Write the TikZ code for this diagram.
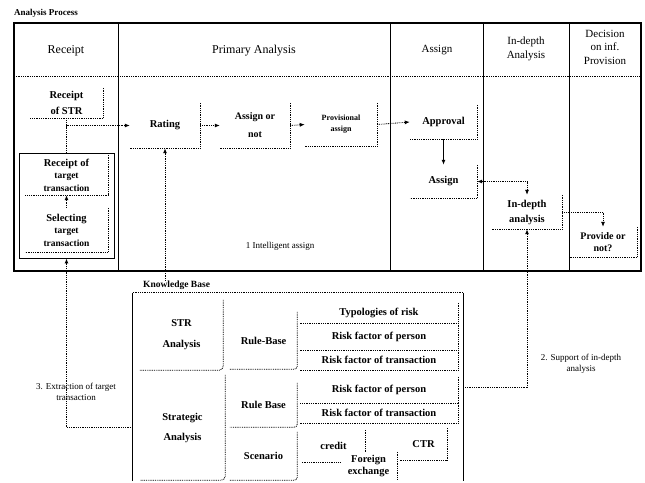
\documentclass[tikz,border=0pt]{standalone}
\usepackage{fontspec}
\setmainfont{Liberation Serif}
\usetikzlibrary{arrows.meta,calc}
\newcommand\Ledge[2][]{\draw[dotline,#1] (#2.north east) -- (#2.south east) -- (#2.south west);}
\begin{document}
\begin{tikzpicture}[x=1pt,y=-1pt,
  dotline/.style={line width=0.8pt, dash pattern=on 0.9pt off 0.9pt},
  tipend/.style={-{Latex[length=5pt,width=4pt]}},
  bothend/.style={{Latex[length=5pt,width=4pt]}-{Latex[length=5pt,width=4pt]}},
  bx/.style={inner sep=0pt, align=center, font=\bfseries\fontsize{10.5}{12.5}\selectfont},
  hd/.style={inner sep=0pt, align=center, font=\fontsize{12}{14}\selectfont},
  lbl/.style={inner sep=0pt, align=center, font=\fontsize{9}{11}\selectfont},
]
\fill[white] (0,0) rectangle (645,482);
\useasboundingbox (0,0) rectangle (645,482);

% ---------- Analysis process frame ----------
\node[anchor=west, inner sep=0pt, font=\bfseries\fontsize{9}{10}\selectfont] (aplabel) at (14,13) {Analysis Process};
\draw[line width=1pt] (118,23) -- (118,271);
\draw[line width=1pt] (390,23) -- (390,271);
\draw[line width=1pt] (483,23) -- (483,271);
\draw[line width=1pt] (569,23) -- (569,271);
\draw[dotline] (14,76) -- (641,76);
\draw[line width=2pt] (14,23) rectangle (641,271);

\node[hd] (hreceipt) at (66,51) {Receipt};
\node[hd] (hprimary) at (254,51) {Primary Analysis};
\node[hd, font=\fontsize{11}{14}\selectfont] (hassign) at (437,50) {Assign};
\node[hd, font=\fontsize{11}{14}\selectfont] (hindepth) at (526,49) {In-depth\\Analysis};
\node[hd, font=\fontsize{11}{13.5}\selectfont] (hdecision) at (605,47) {Decision\\on inf.\\Provision};

% ---------- process boxes ----------
\node[bx, minimum width=73pt, minimum height=30pt, font=\bfseries\fontsize{10.5}{16}\selectfont] (str) at (66.5,103) {Receipt\\of STR};
\node[draw, line width=0.8pt, minimum width=95pt, minimum height=105pt, inner sep=0pt] (grp) at (66.5,205.5) {};
\node[bx, minimum width=83pt, minimum height=40pt] (rt) at (66.5,175) {Receipt of\\{\fontsize{9.5}{12.5}\selectfont target}\\{\fontsize{9.5}{12.5}\selectfont transaction}};
\node[bx, minimum width=83pt, minimum height=44pt] (st) at (66.5,230) {Selecting\\{\fontsize{9.5}{12.5}\selectfont target}\\{\fontsize{9.5}{12.5}\selectfont transaction}};
\node[bx, minimum width=70pt, minimum height=45pt] (rating) at (165,125.5) {Rating};
\node[bx, minimum width=70pt, minimum height=45pt, font=\bfseries\fontsize{10}{18}\selectfont] (aon) at (255,125.5) {Assign or\\not};
\node[bx, minimum width=72pt, minimum height=43pt, font=\bfseries\fontsize{8}{11}\selectfont] (pa) at (341,124.5) {Provisional\\assign};
\node[bx, minimum width=67pt, minimum height=34pt] (approval) at (443.5,122) {Approval};
\node[bx, minimum width=67pt, minimum height=33pt] (assign) at (443.5,181.5) {Assign};
\node[bx, minimum width=70pt, minimum height=34pt, font=\bfseries\fontsize{10.5}{15}\selectfont] (indepth) at (527,212) {In-depth\\analysis};
\node[bx, minimum width=68pt, minimum height=30pt, font=\bfseries\fontsize{10}{11.5}\selectfont] (provide) at (603,242) {Provide or\\not?};

\Ledge{str}
\Ledge{rt}
\Ledge{st}
\Ledge{rating}
\Ledge{aon}
\Ledge{pa}
\Ledge{approval}
\Ledge{assign}
\Ledge{indepth}
\Ledge{provide}

% ---------- knowledge base ----------
\node[inner sep=0pt, minimum width=330pt, minimum height=188pt] (kb) at (298,387) {};
\draw[line width=1pt] (kb.south west) -- (kb.north west);
\draw[dotline] (kb.north west) -- (kb.north east);
\draw[line width=1pt] (kb.north east) -- (kb.south east);
\node[anchor=south west, inner sep=0pt, font=\bfseries\fontsize{9.5}{10}\selectfont] (kblabel) at (143,290) {Knowledge Base};

\node[bx, minimum width=83pt, minimum height=70pt, font=\bfseries\fontsize{10.5}{21}\selectfont] (stra) at (181.5,335) {STR\\Analysis};
\node[bx, minimum width=67pt, minimum height=57pt] (rb1) at (263.5,340.5) {Rule-Base};
\node[bx, minimum width=158pt, minimum height=20pt] (typ) at (379,313) {Typologies of risk};
\node[bx, minimum width=158pt, minimum height=27pt] (rfp1) at (379,336.5) {Risk factor of person};
\node[bx, minimum width=158pt, minimum height=20pt] (rft1) at (379,360) {Risk factor of transaction};
\node[bx, minimum width=85pt, minimum height=105pt, font=\bfseries\fontsize{10.5}{20}\selectfont] (strat) at (182.5,427.5) {Strategic\\Analysis};
\node[bx, minimum width=67pt, minimum height=44pt] (rb2) at (263.5,405) {Rule Base};
\node[bx, minimum width=158pt, minimum height=26pt] (rfp2) at (379,390) {Risk factor of person};
\node[bx, minimum width=158pt, minimum height=20pt] (rft2) at (379,413) {Risk factor of transaction};
\node[bx, minimum width=67pt, minimum height=48pt] (scen) at (263.5,456) {Scenario};
\node[bx, minimum width=63pt, minimum height=32pt] (credit) at (333.5,446) {credit};
\node[bx, minimum width=57pt, minimum height=28pt] (fe) at (368.5,466) {Foreign\\exchange};
\node[bx, minimum width=47pt, minimum height=32pt] (ctr) at (423.5,444) {CTR};

\Ledge[rounded corners=4pt]{stra}
\Ledge[rounded corners=3pt]{rb1}
\Ledge{typ}
\Ledge{rfp1}
\Ledge{rft1}
\Ledge[rounded corners=4pt]{strat}
\Ledge[rounded corners=3pt]{rb2}
\Ledge{rfp2}
\Ledge{rft2}
\Ledge[rounded corners=3pt]{scen}
\draw[dotline] (credit.north east) -- (credit.east |- fe.north);
\draw[dotline] (credit.south west) -- (credit.south -| fe.west);
\draw[dotline] (fe.north east) -- (fe.south east);
\Ledge{ctr}

% ---------- connectors ----------
\coordinate (j1) at (str.south |- rating.west);
\draw[dotline] (str.south) -- (j1);
\draw[dotline] (grp.north) -- (j1);
\draw[dotline, tipend] (j1) -- (rating.west);
\draw[dotline, tipend] (st.north) -- (rt.south);
\draw[dotline, tipend] (rating.east) -- (aon.west);
\draw[dotline, tipend] (aon.east) -- (pa.west);
\draw[dotline, tipend] (pa.east) -- (approval.west);
\draw[line width=1.1pt, tipend] (approval.south) -- (assign.north);
\draw[dotline, bothend] (assign.east) -| (indepth.north);
\draw[dotline, tipend] (indepth.east) -| (provide.north);
\draw[dotline, line width=1pt, tipend] (kblabel.north -| rating.south) -- (rating.south);
\draw[dotline, line width=1pt, tipend] (kb.east) -| (indepth.south);
\draw[dotline, line width=1pt, tipend] (kb.west |- strat.west) -| (grp.south);

% ---------- labels ----------
\node[lbl] (l1) at (280,246) {1 Intelligent assign};
\node[lbl] (l2) at (581,364) {2. Support of in-depth\\analysis};
\node[lbl] (l3) at (76,392) {3. Extraction of target\\transaction};
\end{tikzpicture}
\end{document}
